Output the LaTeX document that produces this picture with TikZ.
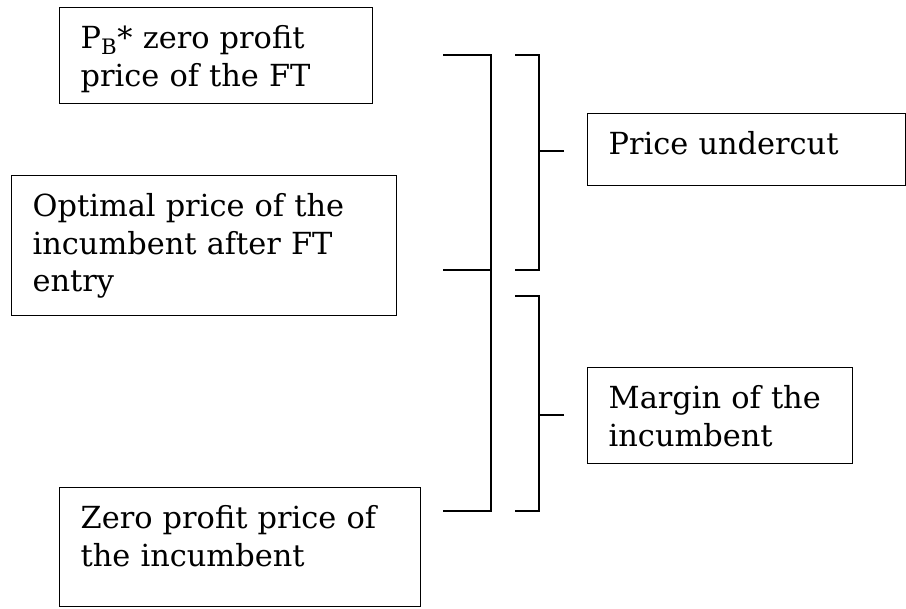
\documentclass[tikz,border=0pt]{standalone}
\usepackage{fontspec}
\setmainfont{DejaVu Serif}
\usepackage{tikz}

\begin{document}
\begin{tikzpicture}[x=0.75pt,y=-0.75pt,shape=rectangle,
  box/.style={draw, line width=1pt, anchor=north west, align=left,
    inner xsep=15.75pt, inner ysep=0pt, text height=30.75pt,
    font=\fontsize{22.8}{28}\selectfont},
  bracket/.style={line width=1pt}]
\useasboundingbox (0,0) rectangle (906,608);

\node (ftprice) [box, text width=203.25pt, text depth=41.25pt] at (59,7)
{P\textsubscript{B}* zero profit\\price of the FT};
\node (optprice) [box, text width=257.25pt, text depth=74.25pt] at (11,175)
{Optimal price of the\\incumbent after FT\\entry};
\node (zeroprice) [box, text width=239.25pt, text depth=58.5pt] at (59,487)
{Zero profit price of\\the incumbent};
\node (undercut) [box, text width=207pt, text depth=23.25pt] at (587,113)
{Price undercut};
\node (margin) [box, text width=167.25pt, text depth=41.25pt] at (587,367)
{Margin of the\\incumbent};

\coordinate (bigtop) at (443,55);
\coordinate (bigmid) at (443,270);
\coordinate (bigbot) at (443,511);
\coordinate (bigspine) at (491,0);
\coordinate (uctop) at (515,55);
\coordinate (ucbot) at (515,270);
\coordinate (mgtop) at (515,296);
\coordinate (mgbot) at (515,511);
\coordinate (smallspine) at (539,0);
\coordinate (uctick) at (564,151);
\coordinate (mgtick) at (564,415);

\draw[bracket] (bigtop) -- (bigtop -| bigspine) -- (bigbot -| bigspine) -- (bigbot);
\draw[bracket] (bigmid) -- (bigmid -| bigspine);
\draw[bracket] (uctop) -- (uctop -| smallspine) -- (ucbot -| smallspine) -- (ucbot);
\draw[bracket] (uctick) -- (uctick -| smallspine);
\draw[bracket] (mgtop) -- (mgtop -| smallspine) -- (mgbot -| smallspine) -- (mgbot);
\draw[bracket] (mgtick) -- (mgtick -| smallspine);
\end{tikzpicture}
\end{document}
